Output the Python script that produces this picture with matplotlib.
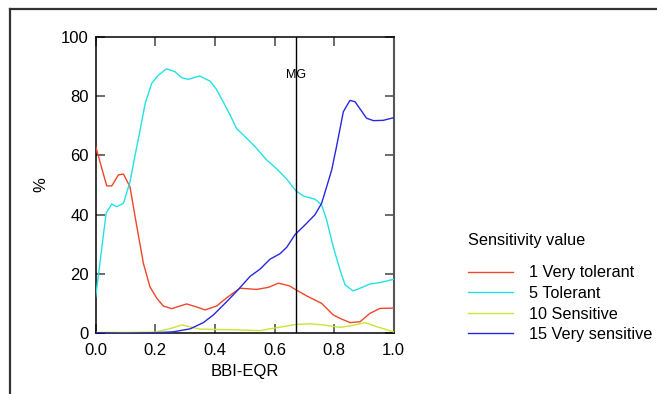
import matplotlib
matplotlib.use("Agg")
import matplotlib.pyplot as plt
from matplotlib.lines import Line2D

plt.rcParams['font.family'] = ['Liberation Sans', 'DejaVu Sans']

# ---- data ----
red_x = [0, 0.037, 0.054, 0.076, 0.093, 0.115, 0.138, 0.16, 0.182, 0.205, 0.227, 0.255,
         0.283, 0.305, 0.335, 0.367, 0.406, 0.44, 0.484, 0.54, 0.58, 0.613, 0.65, 0.673,
         0.71, 0.736, 0.758, 0.797, 0.825, 0.854, 0.887, 0.92, 0.954, 1.0]
red_y = [63, 49.7, 49.7, 53.4, 53.7, 49.4, 36, 23.6, 15.7, 11.8, 9.2, 8.3,
         9.2, 9.9, 9.0, 7.9, 9.2, 12, 15.2, 14.8, 15.5, 16.9, 16, 14.6,
         12.5, 11.2, 10.1, 6.2, 4.8, 3.6, 3.9, 6.7, 8.4, 8.5]

cyan_x = [0, 0.035, 0.054, 0.07, 0.093, 0.115, 0.132, 0.149, 0.166, 0.188, 0.21, 0.238,
          0.266, 0.288, 0.311, 0.339, 0.35, 0.384, 0.405, 0.428, 0.45, 0.473, 0.495,
          0.535, 0.574, 0.607, 0.641, 0.672, 0.697, 0.736, 0.758, 0.775, 0.797, 0.82,
          0.837, 0.864, 0.887, 0.92, 0.954, 1.0]
cyan_y = [12.3, 40.5, 43.6, 42.7, 43.8, 51, 60, 68.5, 77.5, 84.3, 87, 89.2,
          88.2, 86.2, 85.6, 86.5, 86.7, 85, 82.3, 78, 73.8, 69, 66.9,
          62.9, 58.4, 55.5, 52, 48, 46.3, 45.2, 43.3, 38.2, 29.2, 21.3,
          16.3, 14.3, 15.2, 16.6, 17.1, 18.2]

yel_x = [0, 0.1, 0.2, 0.25, 0.289, 0.35, 0.462, 0.551, 0.596, 0.674, 0.72, 0.765,
         0.82, 0.854, 0.904, 0.944, 1.0]
yel_y = [0.3, 0.3, 0.4, 1.6, 2.8, 1.4, 1.2, 0.9, 1.7, 3.0, 3.2, 2.8,
         2.0, 2.5, 3.6, 2.2, 0.5]

blue_x = [0, 0.1, 0.2, 0.26, 0.317, 0.361, 0.395, 0.428, 0.44, 0.479, 0.518, 0.551,
          0.585, 0.618, 0.641, 0.669, 0.702, 0.736, 0.758, 0.775, 0.792, 0.808, 0.831,
          0.853, 0.87, 0.909, 0.932, 0.965, 1.0]
blue_y = [0.2, 0.1, 0.2, 0.5, 1.5, 3.6, 6.2, 9.5, 10.7, 14.8, 19.2, 21.6,
          25, 26.8, 29, 33.3, 36.5, 40, 43.8, 49.4, 55.1, 62.9, 74.7,
          78.5, 78.1, 72.5, 71.7, 71.8, 72.7]

series_labels = ['1 Very tolerant', '5 Tolerant', '10 Sensitive', '15 Very sensitive']
series_colors = ['#F0462A', '#22E2E6', '#C8E632', '#2828E0']

mg_x = 0.672
xticks = [0.0, 0.2, 0.4, 0.6, 0.8, 1.0]
xtick_labels = ['0.0', '0.2', '0.4', '0.6', '0.8', '1.0']
yticks = [0, 20, 40, 60, 80, 100]
ytick_labels = ['0', '20', '40', '60', '80', '100']

W, H = 657, 394
fig = plt.figure(figsize=(W / 100, H / 100), dpi=100)
ax = fig.add_axes([95.7 / W, 1 - 333.3 / H, 298 / W, 296.6 / H])

lines = []
for xs, ys, c, lab in zip([red_x, cyan_x, yel_x, blue_x],
                          [red_y, cyan_y, yel_y, blue_y],
                          series_colors, series_labels):
    ln, = ax.plot(xs, ys, color=c, lw=1.0, label=lab, zorder=3)
    lines.append(ln)

ax.axvline(mg_x, color='black', lw=1.0, zorder=4)
ax.text(mg_x, 87, 'MG', ha='center', va='center', fontsize=9)

ax.set_xlim(0, 1)
ax.set_ylim(0, 100)
ax.set_xticks(xticks)
ax.set_xticklabels(xtick_labels)
ax.set_yticks(yticks)
ax.set_yticklabels(ytick_labels)
ax.tick_params(direction='in', length=6.2, width=1.1, color='#444444',
               labelsize=12, top=True, right=True, pad=5)
ax.tick_params(axis='x', pad=7)
for side in ['left', 'bottom', 'top']:
    ax.spines[side].set_linewidth(1.1)
    ax.spines[side].set_color('black')
ax.spines['right'].set_linewidth(1.5)
ax.spines['right'].set_color('#555555')

ax.set_xlabel('BBI-EQR', fontsize=12)
ax.xaxis.set_label_coords(0.5, -0.105)
ax.set_ylabel('%', fontsize=12)
ax.yaxis.set_label_coords(-0.16, 0.5)

# legend
fig.text(468 / W, 1 - 240.7 / H, 'Sensitivity value', fontsize=11.7,
         ha='left', va='center')
leg = fig.legend(handles=lines, labels=series_labels, loc='upper left',
                 bbox_to_anchor=(468 / W, 1 - 265.5 / H), frameon=False,
                 fontsize=11.7, borderpad=0, borderaxespad=0,
                 handlelength=2.75, handletextpad=1.0, labelspacing=0.34)

# outer frame
fig.add_artist(Line2D([10 / W, 10 / W], [0, 1 - 9.3 / H], transform=fig.transFigure,
                      color='#333333', lw=1.6))
fig.add_artist(Line2D([10 / W, 1], [1 - 9.3 / H, 1 - 9.3 / H], transform=fig.transFigure,
                      color='#333333', lw=1.6))

fig.savefig('out.png', dpi=100)
